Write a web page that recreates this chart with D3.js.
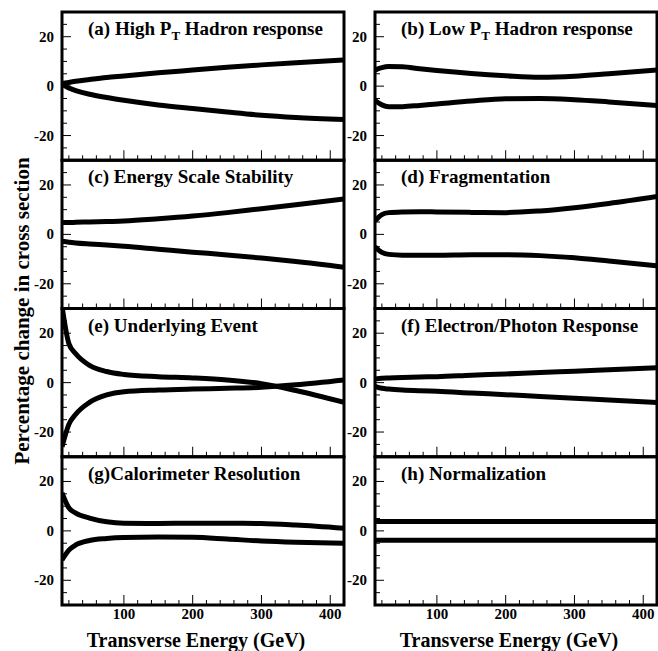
<!DOCTYPE html>
<html>
<head>
<meta charset="utf-8">
<script src="https://cdn.jsdelivr.net/npm/d3@7"></script>
<style>
  body { margin: 0; background: #fff; }
</style>
</head>
<body>
<svg id="chart" width="658" height="651"></svg>
<script>
// Transverse energy grid (GeV) shared by every panel
var energy = [10, 20, 30, 50, 75, 100, 150, 200, 250, 300, 350, 420];

// panel titles (the "T" after P is a subscript, marked with _)
var titles = [
  "(a) High P_T Hadron response",
  "(b) Low P_T Hadron response",
  "(c) Energy Scale Stability",
  "(d) Fragmentation",
  "(e) Underlying Event",
  "(f) Electron/Photon Response",
  "(g)Calorimeter Resolution",
  "(h) Normalization"
];

// upper / lower bands, percentage change in cross section
var upperA = [1.0, 1.5, 2.0, 2.7, 3.5, 4.1, 5.4, 6.5, 7.6, 8.6, 9.5, 10.6];
var lowerA = [0.8, -0.8, -1.8, -3.3, -4.6, -5.7, -7.6, -9.1, -10.5, -11.8, -12.7, -13.5];
var upperB = [6.5, 7.5, 7.9, 7.8, 7.0, 6.3, 5.1, 4.2, 3.6, 4.0, 5.0, 6.5];
var lowerB = [-5.8, -7.6, -8.3, -8.3, -7.8, -7.2, -6.0, -5.1, -5.0, -5.5, -6.4, -7.8];
var upperC = [4.8, 4.8, 4.9, 5.0, 5.2, 5.4, 6.3, 7.4, 8.8, 10.4, 12.0, 14.3];
var lowerC = [-2.8, -3.2, -3.5, -3.9, -4.3, -4.8, -6.0, -7.2, -8.3, -9.6, -11.0, -13.3];
var upperD = [5.5, 8.0, 8.8, 9.1, 9.2, 9.1, 8.9, 8.8, 9.5, 10.8, 12.5, 15.3];
var lowerD = [-5.0, -7.3, -8.1, -8.4, -8.4, -8.4, -8.2, -8.2, -8.6, -9.5, -10.8, -12.7];
var upperE = [31, 15.8, 11.7, 7.0, 4.5, 3.3, 2.4, 1.9, 1.1, -0.4, -3.2, -8.0];
var lowerE = [-26, -16.9, -12.8, -8.0, -5.0, -3.7, -3.0, -2.6, -2.3, -1.9, -0.9, 1.1];
var upperF = [1.5, 1.8, 1.9, 2.1, 2.3, 2.4, 3.0, 3.5, 4.1, 4.6, 5.2, 6.0];
var lowerF = [-1.5, -2.3, -2.6, -3.0, -3.3, -3.5, -4.2, -4.9, -5.6, -6.3, -7.0, -8.0];
var upperG = [15.4, 9.3, 7.2, 5.2, 3.7, 3.1, 3.0, 3.1, 3.1, 3.0, 2.4, 1.1];
var lowerG = [-11.8, -7.8, -5.7, -3.9, -3.1, -2.7, -2.5, -2.6, -3.3, -4.1, -4.6, -5.0];
var upperH = [3.8, 3.8, 3.8, 3.8, 3.8, 3.8, 3.8, 3.8, 3.8, 3.8, 3.8, 3.8];
var lowerH = [-3.8, -3.8, -3.8, -3.8, -3.8, -3.8, -3.8, -3.8, -3.8, -3.8, -3.8, -3.8];

var uppers = [upperA, upperB, upperC, upperD, upperE, upperF, upperG, upperH];
var lowers = [lowerA, lowerB, lowerC, lowerD, lowerE, lowerF, lowerG, lowerH];

var xMajor = [100, 200, 300, 400];
var yMajor = [-20, 0, 20];

var FONT = "'Liberation Serif', 'Times New Roman', 'DejaVu Serif', serif";

var svg = d3.select('#chart')
  .attr('font-family', FONT)
  .attr('font-weight', 'bold');

// layout
var colLeft = [62, 375];
var panelW = 282;
var top0 = 12;
var panelH = 148.25;

var x = [0, 1].map(function(c) {
  return d3.scaleLinear().domain([10, 420]).range([colLeft[c], colLeft[c] + panelW]);
});

titles.forEach(function(title, i) {
  var col = i % 2, row = Math.floor(i / 2);
  var y0 = top0 + row * panelH;
  var xs = x[col];
  var ys = d3.scaleLinear().domain([-30, 30]).range([y0 + panelH, y0]);
  var g = svg.append('g');

  var clipId = 'clip' + i;
  svg.append('clipPath').attr('id', clipId).append('rect')
    .attr('x', colLeft[col]).attr('y', y0)
    .attr('width', panelW).attr('height', panelH);

  // y ticks: minor every 5, major at -20/0/20
  var yt = d3.range(-25, 30, 5);
  g.selectAll('.yt').data(yt).enter().append('line')
    .attr('x1', colLeft[col])
    .attr('x2', function(d) { return colLeft[col] + (d % 20 === 0 ? 9 : 5); })
    .attr('y1', function(d) { return ys(d); })
    .attr('y2', function(d) { return ys(d); })
    .attr('stroke', '#000').attr('stroke-width', 1);

  g.selectAll('.yl').data(yMajor).enter().append('text')
    .attr('x', colLeft[col] - 8)
    .attr('y', function(d) { return ys(d) + 5; })
    .attr('text-anchor', 'end')
    .attr('font-size', 15)
    .text(function(d) { return d; });

  // x ticks: minor every 20 GeV pointing up from bottom
  var xt = d3.range(20, 420, 20);
  g.selectAll('.xt').data(xt).enter().append('line')
    .attr('x1', function(d) { return xs(d); })
    .attr('x2', function(d) { return xs(d); })
    .attr('y1', y0 + panelH)
    .attr('y2', function(d) { return y0 + panelH - (d % 100 === 0 ? 10 : 5); })
    .attr('stroke', '#000').attr('stroke-width', 1);

  // curves
  var line = d3.line()
    .x(function(d) { return xs(d[0]); })
    .y(function(d) { return ys(d[1]); })
    .curve(d3.curveMonotoneX);

  [uppers[i], lowers[i]].forEach(function(vals) {
    g.append('path')
      .datum(energy.map(function(e, k) { return [e, vals[k]]; }))
      .attr('d', line)
      .attr('clip-path', 'url(#' + clipId + ')')
      .attr('fill', 'none')
      .attr('stroke', '#000')
      .attr('stroke-width', 5);
  });

  // frame
  g.append('rect')
    .attr('x', colLeft[col]).attr('y', y0)
    .attr('width', panelW).attr('height', panelH)
    .attr('fill', 'none').attr('stroke', '#000').attr('stroke-width', 3);

  // title, with P_T subscript
  var parts = title.split('_');
  var t = g.append('text')
    .attr('x', colLeft[col] + 26)
    .attr('y', y0 + 23)
    .attr('font-size', 19);
  if (parts.length > 1) {
    t.append('tspan').text(parts[0]);
    t.append('tspan').attr('dy', 5).attr('font-size', 13).text(parts[1].charAt(0));
    t.append('tspan').attr('dy', -5).text(parts[1].slice(1));
  } else {
    t.text(title);
  }

  // x tick labels on bottom row
  if (row === 3) {
    g.selectAll('.xl').data(xMajor).enter().append('text')
      .attr('x', function(d) { return xs(d); })
      .attr('y', y0 + panelH + 14)
      .attr('text-anchor', 'middle')
      .attr('font-size', 15)
      .text(function(d) { return d; });

    g.append('text')
      .attr('x', colLeft[col] + panelW / 2 - 7)
      .attr('y', 647)
      .attr('text-anchor', 'middle')
      .attr('font-size', 20)
      .text('Transverse Energy (GeV)');
  }
});

svg.append('text')
  .attr('transform', 'translate(29,311) rotate(-90)')
  .attr('text-anchor', 'middle')
  .attr('font-size', 21)
  .text('Percentage change in cross section');
</script>
</body>
</html>
